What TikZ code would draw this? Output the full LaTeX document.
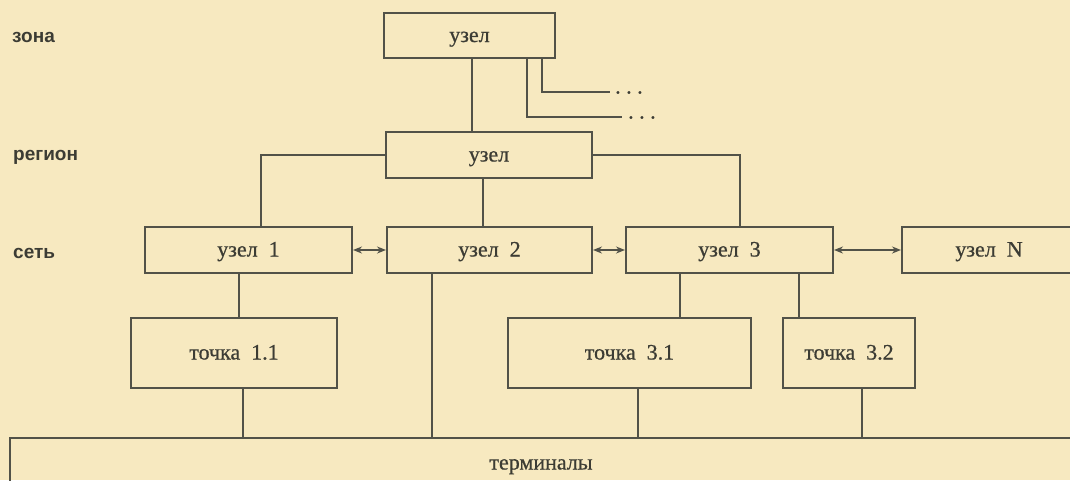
\documentclass[tikz,border=0pt]{standalone}
\usepackage{fontspec}
\setmainfont{Liberation Serif}
\newfontfamily\nodefont{Liberation Serif}[FakeBold=0.7]
\newfontfamily\lvlfont{Liberation Sans}
\usetikzlibrary{arrows.meta}
\definecolor{bgc}{RGB}{247,233,192}
\definecolor{ink}{RGB}{82,82,72}
\definecolor{txt}{RGB}{60,60,52}
\begin{document}
\begin{tikzpicture}[x=1pt,y=-1pt,
  box/.style={draw=ink, line width=2pt, rectangle, inner sep=0pt, text=txt,
              text height=13pt, text depth=0pt,
              font=\nodefont\fontsize{22}{24}\selectfont},
  wire/.style={draw=ink, line width=2pt},
  dbl/.style={wire, {Stealth[length=9pt,width=7pt]}-{Stealth[length=9pt,width=7pt]}},
  lvl/.style={anchor=base west, text=txt, inner sep=0pt, font=\lvlfont\bfseries\fontsize{19}{22}\selectfont},
  dots/.style={anchor=base west, inner sep=0pt, text=txt, font=\nodefont\fontsize{22}{24}\selectfont},
]
\fill[bgc] (0,0) rectangle (1070,480);
\useasboundingbox (0,0) rectangle (1070,480);
\clip (0,0) rectangle (1070,480);

% level labels
\node[lvl] (lz) at (12,42) {зона};
\node[lvl] (lr) at (13,160) {регион};
\node[lvl] (ls) at (13,258) {сеть};

% nodes
\node[box, minimum width=171pt, minimum height=45pt] (zone) at (469.5,35.5) {узел};
\node[box, minimum width=206pt, minimum height=46pt] (region) at (489,155) {узел};
\node[box, minimum width=207pt, minimum height=46pt] (n1) at (248.5,250) {узел\ \ 1};
\node[box, minimum width=205pt, minimum height=46pt] (n2) at (489.5,250) {узел\ \ 2};
\node[box, minimum width=207pt, minimum height=46pt] (n3) at (729.5,250) {узел\ \ 3};
\node[box, minimum width=174pt, minimum height=46pt] (nN) at (989,250) {узел\ \ N};
\node[box, minimum width=206pt, minimum height=70pt] (p11) at (234,353) {точка\ \ 1.1};
\node[box, minimum width=243pt, minimum height=70pt] (p31) at (629.5,353) {точка\ \ 3.1};
\node[box, minimum width=132pt, minimum height=70pt] (p32) at (849,353) {точка\ \ 3.2};
\node[box, minimum width=1062pt, minimum height=50pt] (term) at (541,463) {терминалы};

% dots
\node[dots] (d1) at (615,93.5) {.\ .\ .};
\node[dots] (d2) at (628,118.5) {.\ .\ .};

% helper x positions
\coordinate (xz) at (472,0);
\coordinate (xa) at (542,0);
\coordinate (xb) at (527,0);
\coordinate (e1) at (610,92);
\coordinate (e2) at (622,117);
\coordinate (xl) at (261,0);
\coordinate (xr) at (740,0);
\coordinate (xm) at (483,0);
\coordinate (x1) at (239,0);
\coordinate (x2) at (432,0);
\coordinate (x3) at (680,0);
\coordinate (x4) at (799,0);
\coordinate (x5) at (243,0);
\coordinate (x6) at (638,0);
\coordinate (x7) at (862,0);

% connectors
\draw[wire] (zone.south -| xz) -- (region.north -| xz);
\draw[wire] (zone.south -| xa) |- (e1);
\draw[wire] (zone.south -| xb) |- (e2);
\draw[wire] (region.west) -| (xl |- n1.north);
\draw[wire] (region.east) -| (xr |- n3.north);
\draw[wire] (region.south -| xm) -- (n2.north -| xm);
\draw[dbl] (n1.east) -- (n2.west);
\draw[dbl] (n2.east) -- (n3.west);
\draw[dbl] (n3.east) -- (nN.west);
\draw[wire] (n1.south -| x1) -- (p11.north -| x1);
\draw[wire] (n2.south -| x2) -- (term.north -| x2);
\draw[wire] (n3.south -| x3) -- (p31.north -| x3);
\draw[wire] (n3.south -| x4) -- (p32.north -| x4);
\draw[wire] (p11.south -| x5) -- (term.north -| x5);
\draw[wire] (p31.south -| x6) -- (term.north -| x6);
\draw[wire] (p32.south -| x7) -- (term.north -| x7);
\end{tikzpicture}
\end{document}
